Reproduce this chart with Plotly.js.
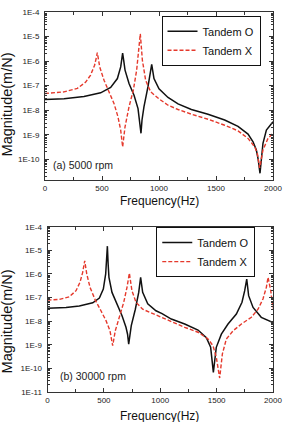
<!DOCTYPE html>
<html>
<head>
<meta charset="utf-8">
<script src="https://cdn.plot.ly/plotly-3.0.1.min.js"></script>
<style>
  html, body { margin: 0; padding: 0; background: #fff; }
  #chart { width: 284px; height: 422px; }
</style>
</head>
<body>
<div id="chart"></div>
<script>
// Frequency response magnitude, (a) 5000 rpm
const freqO_a = [0, 167, 342, 488, 576, 635, 664, 674, 681, 690, 702, 737, 781, 816, 829, 842, 851, 868, 903, 921, 936, 956, 1000, 1079, 1167, 1284, 1430, 1576, 1693, 1781, 1825, 1854, 1870, 1886, 1898, 1912, 1942, 2000];
const magO_a  = [2.75e-8, 2.9e-8, 3.6e-8, 5.1e-8, 8.5e-8, 1.95e-7, 5.8e-7, 1.1e-6, 2.1e-6, 1.1e-6, 4.3e-7, 1.23e-7, 4.1e-8, 1.17e-8, 4.0e-9, 1.15e-9, 4.0e-9, 1.38e-8, 8.9e-8, 3.2e-7, 7.4e-7, 1.95e-7, 7.4e-8, 3.3e-8, 1.8e-8, 1.07e-8, 6.8e-9, 4.0e-9, 2.2e-9, 1.07e-9, 5.2e-10, 2.4e-10, 1.0e-10, 2.7e-11, 1.3e-10, 4.5e-10, 1.55e-9, 3.4e-9];

const freqX_a = [0, 167, 284, 357, 400, 435, 448, 459, 470, 480, 518, 562, 605, 640, 664, 681, 702, 737, 775, 804, 822, 836, 854, 883, 927, 1000, 1079, 1167, 1284, 1430, 1576, 1693, 1781, 1840, 1863, 1883, 1912, 1956, 2000];
const magX_a  = [4.8e-8, 5.6e-8, 7.8e-8, 1.4e-7, 2.7e-7, 6.8e-7, 1.25e-6, 2.2e-6, 1.1e-6, 5.8e-7, 1.65e-7, 5.6e-8, 1.9e-8, 5.4e-9, 1.55e-9, 3.2e-10, 2.1e-9, 1.38e-8, 6.6e-8, 4.3e-7, 2.75e-6, 1.3e-5, 1.1e-6, 1.65e-7, 5.6e-8, 2.9e-8, 1.6e-8, 1.07e-8, 6.9e-9, 4.3e-9, 2.45e-9, 1.45e-9, 7.1e-10, 3.2e-10, 1.7e-10, 4.5e-11, 2.4e-10, 7.1e-10, 1.17e-9];

// Frequency response magnitude, (b) 30000 rpm
const freqO_b = [0, 164, 282, 401, 460, 495, 516, 524, 531, 538, 545, 572, 614, 661, 696, 710, 720, 730, 743, 779, 809, 826, 844, 889, 962, 1016, 1098, 1217, 1335, 1409, 1447, 1471, 1497, 1542, 1601, 1675, 1725, 1749, 1767, 1784, 1823, 1896, 2000];
const magO_b  = [3.5e-8, 3.8e-8, 4.4e-8, 6.0e-8, 9.5e-8, 2.3e-7, 1.0e-6, 3.2e-6, 1.5e-5, 2.5e-6, 7.2e-7, 1.65e-7, 5.4e-8, 1.7e-8, 5.5e-9, 2.8e-9, 1.07e-9, 2.8e-9, 6.5e-9, 3.2e-8, 1.65e-7, 7.2e-7, 1.65e-7, 5.4e-8, 2.75e-8, 2.1e-8, 1.23e-8, 7.6e-9, 4.2e-9, 2.0e-9, 7.8e-10, 6.8e-11, 7.8e-10, 2.8e-9, 7.6e-9, 2.0e-8, 6.3e-8, 1.95e-7, 6.0e-7, 1.2e-7, 3.8e-8, 1.45e-8, 8.7e-9];

const freqX_b = [0, 105, 193, 253, 288, 312, 330, 348, 377, 424, 474, 519, 554, 578, 601, 637, 676, 705, 726, 749, 785, 844, 933, 1016, 1098, 1217, 1335, 1424, 1468, 1497, 1527, 1551, 1586, 1646, 1720, 1808, 1867, 1911, 1941, 1956, 1980, 2000];
const magX_b  = [7.8e-8, 8.3e-8, 1.07e-7, 1.95e-7, 4.4e-7, 1.17e-6, 3.6e-6, 1.0e-6, 2.7e-7, 7.8e-8, 2.75e-8, 1.05e-8, 3.9e-9, 9.1e-10, 3.9e-9, 1.45e-8, 6.3e-8, 2.7e-7, 1.07e-6, 1.95e-7, 6.3e-8, 3.2e-8, 2.1e-8, 1.45e-8, 9.8e-9, 5.5e-9, 3.4e-9, 1.75e-9, 9.1e-10, 3.0e-10, 3.9e-11, 4.1e-10, 1.75e-9, 3.9e-9, 7.6e-9, 1.45e-8, 3.2e-8, 8.7e-8, 2.7e-7, 7.2e-7, 1.95e-7, 3.5e-8];

// Axis ticks and labels
const xTicks = [0, 500, 1000, 1500, 2000];
const yTickExp_a = [-10, -9, -8, -7, -6, -5, -4];
const yTickText_a = ['1E-10', '1E-9', '1E-8', '1E-7', '1E-6', '1E-5', '1E-4'];
const yTickExp_b = [-11, -10, -9, -8, -7, -6, -5, -4];
const yTickText_b = ['1E-11', '1E-10', '1E-9', '1E-8', '1E-7', '1E-6', '1E-5', '1E-4'];
const seriesNames = ['Tandem O', 'Tandem X'];
const panelLabels = ['(a) 5000 rpm', '(b) 30000 rpm'];
const xTitle = 'Frequency(Hz)';
const yTitle = 'Magnitude(m/N)';

const FONT = 'Arial, "Liberation Sans", sans-serif';
const BLACK = '#111111';
const RED = '#e5392c';
const FRAME = '#333333';

// minor log ticks (2..9 within each decade)
function minorLogTicks(lo, hi) {
  const out = [];
  for (let e = lo; e < hi; e++) {
    for (let m = 2; m <= 9; m++) out.push(m * Math.pow(10, e));
  }
  return out;
}

const solid = { color: BLACK, width: 1.5 };
const dashed = { color: RED, width: 1.4, dash: '4px,2px' };

const traces = [
  { x: freqO_a, y: magO_a, xaxis: 'x', yaxis: 'y', name: seriesNames[0], mode: 'lines', line: solid, legend: 'legend' },
  { x: freqX_a, y: magX_a, xaxis: 'x', yaxis: 'y', name: seriesNames[1], mode: 'lines', line: dashed, legend: 'legend' },
  { x: freqO_b, y: magO_b, xaxis: 'x2', yaxis: 'y2', name: seriesNames[0], mode: 'lines', line: solid, legend: 'legend2' },
  { x: freqX_b, y: magX_b, xaxis: 'x2', yaxis: 'y2', name: seriesNames[1], mode: 'lines', line: dashed, legend: 'legend2' }
];

function xAxis(domain, anchor) {
  return {
    domain: domain, anchor: anchor, range: [0, 2000],
    tickmode: 'array', tickvals: xTicks,
    ticks: 'inside', ticklen: 4, tickwidth: 1, tickcolor: FRAME,
    minor: { dtick: 250, tick0: 0, ticks: 'inside', ticklen: 3, tickcolor: FRAME, showgrid: false },
    showline: true, linecolor: FRAME, linewidth: 1, mirror: 'ticks',
    showgrid: false, zeroline: false,
    tickfont: { family: FONT, size: 8, color: '#222' },
    automargin: false
  };
}

function yAxis(domain, anchor, range, exps, texts) {
  return {
    domain: domain, anchor: anchor, type: 'log', range: range,
    tickmode: 'array', tickvals: exps.map(e => Math.pow(10, e)), ticktext: texts,
    ticks: 'inside', ticklen: 4, tickwidth: 1, tickcolor: FRAME,
    minor: { tickmode: 'array', tickvals: minorLogTicks(-12, -4), ticks: 'inside', ticklen: 2, tickcolor: FRAME, showgrid: false },
    showline: true, linecolor: FRAME, linewidth: 1, mirror: 'ticks',
    showgrid: false, zeroline: false,
    ticklabelstandoff: 3,
    tickfont: { family: FONT, size: 8, color: '#222' },
    automargin: false
  };
}

function legendBox(x, y) {
  return {
    x: x, y: y, xanchor: 'left', yanchor: 'top',
    bgcolor: '#fff', bordercolor: '#111', borderwidth: 1,
    font: { family: FONT, size: 11, color: '#111' },
    tracegroupgap: 0, itemwidth: 30
  };
}

function label(text, x, y, size, extra) {
  return Object.assign({
    text: text, xref: 'paper', yref: 'paper', x: x, y: y,
    xanchor: 'center', yanchor: 'middle', showarrow: false,
    font: { family: FONT, size: size, color: '#111' }
  }, extra || {});
}

const layout = {
  width: 284, height: 422,
  margin: { l: 45, r: 11, t: 12, b: 30 },
  paper_bgcolor: '#fff', plot_bgcolor: '#fff',
  font: { family: FONT, color: '#111' },
  showlegend: true,
  xaxis: xAxis([0, 1], 'y'),
  yaxis: yAxis([0.558, 1], 'x', [-10.84, -4], yTickExp_a, yTickText_a),
  xaxis2: xAxis([0.011, 1], 'y2'),
  yaxis2: yAxis([0, 0.435], 'x2', [-11, -4], yTickExp_b, yTickText_b),
  legend: legendBox(0.511, 0.99),
  legend2: legendBox(0.488, 0.434),
  annotations: [
    // axis titles
    label(xTitle, 0.5, 0.503, 12),
    label(xTitle, 0.5, -0.062, 12),
    label(yTitle, -0.169, 0.758, 14.5, { textangle: -90 }),
    label(yTitle, -0.169, 0.187, 14.5, { textangle: -90 }),
    // panel captions
    label(panelLabels[0], 0.026, 0.597, 10.5, { xanchor: 'left', font: { family: FONT, size: 10.5, color: '#222' } }),
    label(panelLabels[1], 0.055, 0.042, 10.5, { xanchor: 'left', font: { family: FONT, size: 10.5, color: '#222' } })
  ]
};

Plotly.newPlot('chart', traces, layout, { staticPlot: true, displayModeBar: false });
</script>
</body>
</html>
